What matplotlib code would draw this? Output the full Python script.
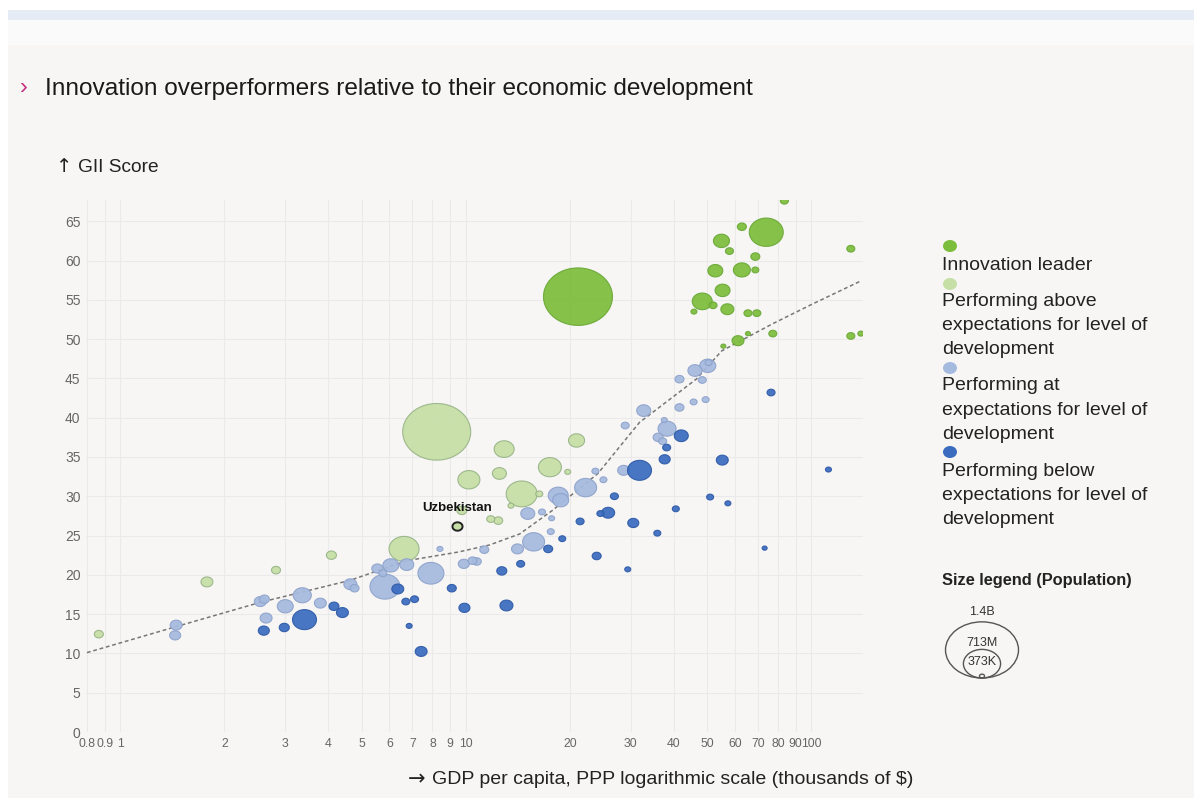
import matplotlib
matplotlib.use("Agg")
import matplotlib.pyplot as plt
import numpy as np
from matplotlib.ticker import FixedLocator, FixedFormatter, NullLocator
from matplotlib.patches import Ellipse, Rectangle
from matplotlib.path import Path

plt.rcParams['font.family'] = ['Liberation Sans', 'DejaVu Sans']

# ---------------- data (GDP per capita PPP, thousands $; GII score; population, millions) ----------------
leader_gdp = [21.1, 83.5, 74.0, 62.9, 54.9, 57.9, 68.8, 52.7, 62.9, 68.8, 55.3, 48.3, 51.9, 45.7,
              57.1, 65.5, 69.5, 130, 130, 139, 77.3, 65.5, 61.3, 55.6]
leader_score = [55.4, 67.6, 63.6, 64.3, 62.5, 61.2, 60.5, 58.7, 58.8, 58.8, 56.2, 54.8, 54.3, 53.5,
                53.8, 53.3, 53.3, 61.5, 50.4, 50.7, 50.7, 50.7, 49.8, 49.1]
leader_pop = [1406, 19, 341, 24, 76, 19, 24, 66, 85, 14.5, 66, 118, 19, 10.6,
              50, 19, 19, 19, 19, 10.6, 19, 7.4, 42.5, 7.4]

above_gdp = [0.866, 1.78, 2.82, 4.08, 6.62, 9.73, 8.23, 12.9, 20.9, 10.2, 12.5, 17.5, 19.7,
             14.5, 16.3, 13.5, 11.8, 12.4]
above_score = [12.45, 19.1, 20.6, 22.5, 23.3, 28.2, 38.2, 36.0, 37.1, 32.1, 32.9, 33.7, 33.1,
               30.3, 30.3, 28.8, 27.1, 26.9]
above_pop = [24, 42, 24, 29.5, 266, 29.5, 1366, 118, 76, 143, 58, 156, 10.6,
             284, 14.5, 10.6, 19, 24]

at_gdp = [1.45, 1.44, 2.54, 2.61, 2.64, 3.0, 3.36, 3.79, 4.63, 4.76, 5.83, 5.54, 6.06, 6.74, 5.75,
          7.92, 8.41, 9.86, 10.45, 10.75, 11.3, 15.1, 16.6, 18.5, 18.8, 22.2, 23.7, 17.7, 17.6,
          15.7, 14.1, 25.0, 28.6, 28.9, 32.7, 36.0, 37.1, 37.5, 38.2, 41.5, 41.5, 45.6, 49.4,
          46.0, 50.1, 48.3, 50.4]
at_score = [13.6, 12.3, 16.6, 16.9, 14.5, 16.0, 17.4, 16.4, 18.8, 18.3, 18.5, 20.8, 21.2, 21.3, 20.2,
            20.2, 23.3, 21.4, 21.8, 21.7, 23.2, 27.8, 28.0, 30.1, 29.5, 31.1, 33.2, 27.2, 25.5,
            24.2, 23.3, 32.1, 33.3, 39.0, 40.9, 37.5, 37.0, 39.7, 38.6, 41.3, 44.9, 42.0, 42.3,
            46.0, 46.6, 44.8, 47.0]
at_pop = [42, 36, 42, 29.5, 42, 75, 96, 42, 50, 24, 266, 36, 75, 58, 19,
          200, 10.6, 36, 24, 24, 24, 58, 14.5, 118, 76, 143, 14.5, 10.6, 14.5,
          143, 42, 14.5, 42, 19, 58, 30, 19, 10.6, 96, 24, 24, 14.5, 14.5,
          58, 76, 19, 14.5]

below_gdp = [2.60, 2.98, 3.41, 4.15, 4.39, 6.35, 6.7, 7.1, 6.85, 7.42, 9.1, 9.9, 14.4, 12.7, 13.1,
             21.4, 19.0, 17.3, 26.9, 25.8, 24.5, 30.5, 35.8, 40.5, 50.9, 57.3, 23.9, 29.4, 31.8,
             42.0, 38.1, 37.6, 55.2, 76.4, 112, 73.2]
below_score = [12.9, 13.3, 14.3, 16.0, 15.2, 18.2, 16.6, 16.9, 13.5, 10.25, 18.3, 15.8, 21.4, 20.5, 16.1,
               26.8, 24.6, 23.3, 30.0, 27.9, 27.8, 26.6, 25.3, 28.4, 29.9, 29.1, 22.4, 20.7, 33.3,
               37.7, 36.2, 34.7, 34.6, 43.2, 33.4, 23.4]
below_pop = [36, 30, 170, 30, 42, 42, 19, 19, 10.6, 42, 24, 36, 19, 30, 50,
             19, 14.5, 24, 19, 50, 14.5, 36, 14.5, 14.5, 14.5, 10.6, 24, 10.6, 170,
             58, 19, 36, 42, 19, 10.6, 7.4]

trend_gdp = [0.8, 1.5, 2.54, 4.62, 6.74, 9.5, 11.7, 14.3, 17.8, 24.1, 31.8, 46.4, 55, 77.6, 100, 139]
trend_score = [10.1, 13.6, 16.5, 19.3, 21.8, 22.9, 23.8, 25.2, 28.2, 32.9, 39.4, 44.9, 48.5, 52.0, 54.4, 57.4]

highlight_name = "Uzbekistan"
highlight_gdp = 9.44
highlight_score = 26.2
highlight_pop = 30

x_ticks = [0.8, 0.9, 1, 2, 3, 4, 5, 6, 7, 8, 9, 10, 20, 30, 40, 50, 60, 70, 80, 90, 100]
x_tick_labels = ["0.8", "0.9", "1", "2", "3", "4", "5", "6", "7", "8", "9", "10",
                 "20", "30", "40", "50", "60", "70", "80", "90", "100"]
y_ticks = [0, 5, 10, 15, 20, 25, 30, 35, 40, 45, 50, 55, 60, 65]

categories = ["Innovation leader",
              "Performing above\nexpectations for level of\ndevelopment",
              "Performing at\nexpectations for level of\ndevelopment",
              "Performing below\nexpectations for level of\ndevelopment"]
size_legend_values = [1400, 713, 0.373]
size_legend_labels = ["1.4B", "713M", "373K"]

# ---------------- styling ----------------
W, H = 1194, 798
BG = "#f7f6f4"
fill_colors = ["#7dbd3c", "#c6dfa6", "#a5badf", "#3b6cc0"]
edge_colors = ["#6aa837", "#98b487", "#8ea2cb", "#2e5aa6"]
R_SCALE = 0.92   # px (horizontal radius) per sqrt(million)
ASPECT = 1.2     # bubbles are drawn wider than tall

theta = np.linspace(0, 2 * np.pi, 72)
ellipse_marker = Path(np.column_stack([np.cos(theta), np.sin(theta) / ASPECT]), closed=True)


def radius_px(pop):
    return R_SCALE * np.sqrt(np.asarray(pop, dtype=float))


def area_pt2(pop):
    r = radius_px(pop)
    return (2 * r * 72 / 100) ** 2


fig = plt.figure(figsize=(W / 100, H / 100), dpi=100)
fig.patch.set_facecolor(BG)

bg = fig.add_axes([0, 0, 1, 1], zorder=-5)
bg.set_xlim(0, W)
bg.set_ylim(H, 0)
bg.axis("off")
bg.add_patch(Rectangle((0, 0), 8, H, color="white", lw=0))
bg.add_patch(Rectangle((8, 0), W, 10, color="white", lw=0))
bg.add_patch(Rectangle((8, 10), W, 10, color="#e5ecf6", lw=0))
bg.add_patch(Rectangle((8, 20), W, 25, color="#fafafa", lw=0))

ax = fig.add_axes([86 / W, (H - 732) / H, (863 - 86) / W, (732 - 200) / H])
ax.set_facecolor(BG)
ax.set_xscale("log")
ax.set_xlim(0.795, 141)
ax.set_ylim(0, 67.7)
for s in ax.spines.values():
    s.set_visible(False)
ax.xaxis.set_major_locator(FixedLocator(x_ticks))
ax.xaxis.set_major_formatter(FixedFormatter(x_tick_labels))
ax.xaxis.set_minor_locator(NullLocator())
ax.set_yticks(y_ticks)
ax.tick_params(axis="both", length=0, colors="#666666")
ax.tick_params(axis="x", pad=4, labelsize=8.8)
ax.tick_params(axis="y", pad=4, labelsize=10)
ax.grid(True, color="#eaeaea", lw=0.8)
ax.set_axisbelow(True)

ax.plot(trend_gdp, trend_score, ls=(0, (2.5, 1.8)), color="#777777", lw=1.1, zorder=1)

series = [(leader_gdp, leader_score, leader_pop),
          (above_gdp, above_score, above_pop),
          (at_gdp, at_score, at_pop),
          (below_gdp, below_score, below_pop)]
for i, (gx, gy, gp) in enumerate(series):
    order = np.argsort(-np.asarray(gp))
    ax.scatter(np.asarray(gx)[order], np.asarray(gy)[order], s=area_pt2(np.asarray(gp)[order]),
               marker=ellipse_marker, color=fill_colors[i], edgecolors=edge_colors[i],
               linewidths=0.8, alpha=0.93, zorder=2 + i * 0.1)

ax.scatter([highlight_gdp], [highlight_score], s=area_pt2([highlight_pop]), marker=ellipse_marker,
           color=fill_colors[1], edgecolors="#222222", linewidths=1.4, zorder=5)
ax.annotate(highlight_name, (highlight_gdp, highlight_score), xytext=(0, 9),
            textcoords="offset points", ha="center", va="bottom", fontsize=9.5,
            fontweight="bold", color="#111111", zorder=6)

# ---------------- text overlay (pixel coordinates) ----------------
ov = fig.add_axes([0, 0, 1, 1], zorder=10)
ov.set_xlim(0, W)
ov.set_ylim(H, 0)
ov.axis("off")
ov.patch.set_alpha(0)

ov.text(20, 88, "›", fontsize=17, color="#c2307f", ha="left", va="center")
ov.text(45, 89, "Innovation overperformers relative to their economic development",
        fontsize=17.6, color="#1a1a1a", ha="left", va="center")
ov.text(56, 167, "↑", fontsize=14, color="#222222", ha="left", va="center", family="DejaVu Sans")
ov.text(78, 168, "GII Score", fontsize=13.8, color="#222222", ha="left", va="center")
ov.text(408, 779, "→", fontsize=15, color="#222222", ha="left", va="center", family="DejaVu Sans")
ov.text(432, 780, "GDP per capita, PPP logarithmic scale (thousands of $)",
        fontsize=14, color="#222222", ha="left", va="center")

legend_dot_y = [246, 284, 368, 452]
legend_first_line_y = [266, 301, 386, 471]
line_step = 24.4
for i, lab in enumerate(categories):
    ov.add_patch(Ellipse((950, legend_dot_y[i]), 14, 12, color=fill_colors[i], lw=0))
    for j, line in enumerate(lab.split("\n")):
        ov.text(942, legend_first_line_y[i] + j * line_step, line, fontsize=14, color="#222222",
                ha="left", va="center")

ov.text(942, 581, "Size legend (Population)", fontsize=11.8, fontweight="bold",
        color="#222222", ha="left", va="center")

base_y = 678
cx = 982
rmax = 36.5
label_y = [612, 643, 662]
for v, lab, ly in zip(size_legend_values, size_legend_labels, label_y):
    rx = max(2.5, rmax * v / size_legend_values[0])
    ry = rx / 1.3
    ov.add_patch(Ellipse((cx, base_y - ry), 2 * rx, 2 * ry, fill=False, ec="#555555", lw=1.0))
    ov.text(cx, ly, lab, fontsize=9, color="#333333", ha="center", va="center")

fig.savefig("out.png", dpi=100, facecolor=BG)
